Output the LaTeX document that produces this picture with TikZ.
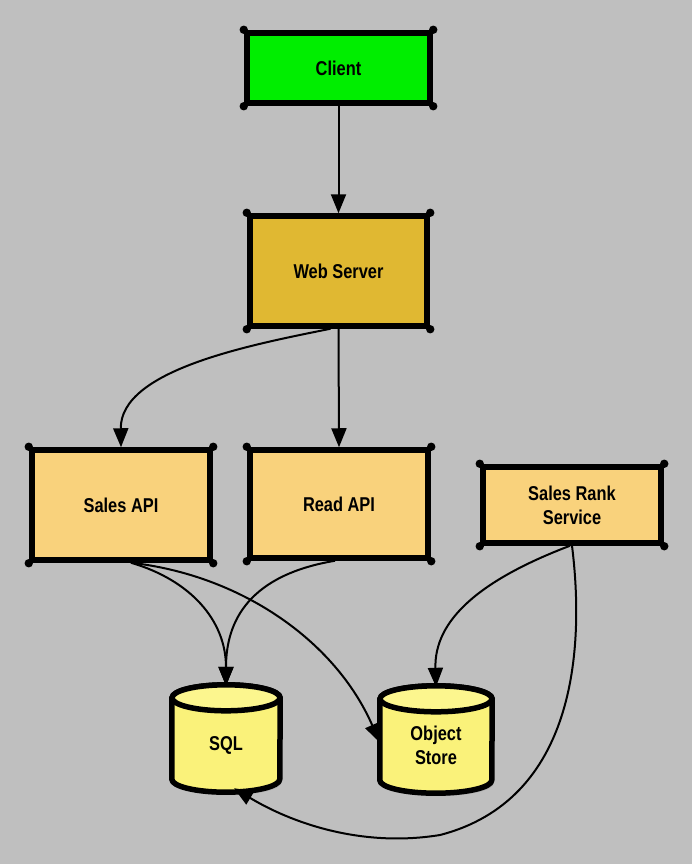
\documentclass[tikz,border=0pt]{standalone}
\usepackage{fontspec}
\setmainfont{Liberation Sans}[FakeStretch=0.82]
\usetikzlibrary{arrows.meta,shadows}

\definecolor{bgray}{HTML}{BFBFBF}
\definecolor{clientgreen}{HTML}{00EE00}
\definecolor{servergold}{HTML}{E0B832}
\definecolor{apipeach}{HTML}{F9D27C}
\definecolor{dbyellow}{HTML}{FAF27A}
\definecolor{dbtop}{HTML}{FCF68E}

\tikzset{
  box/.style={draw=black, line width=5.5pt, rectangle, align=center,
    font=\bfseries\fontsize{20}{24}\selectfont,
    drop shadow={opacity=0.25, shadow xshift=2pt, shadow yshift=-3pt}},
  dbnode/.style={rectangle, align=center, inner sep=0pt,
    font=\bfseries\fontsize{20}{24}\selectfont},
  dbbody/.style={fill=dbyellow, draw=black, line width=5.5pt, line join=round},
  link/.style={draw=black, line width=2pt, -{Triangle[length=19pt,width=15pt]}},
  cornerdot/.style={fill=black}
}

% filled dots at the four corners of a box
\newcommand\boxcorners[1]{%
  \foreach \a/\dx/\dy in {north west/-1/-1, north east/1/-1, south west/-1/1, south east/1/1}
    \fill[cornerdot] ([xshift=\dx*0.5pt, yshift=-\dy*0.5pt]#1.\a) circle[radius=4.2pt];%
}

% database cylinder drawn around a named node
\newcommand\drawdb[2]{%
  \path[dbbody, drop shadow={opacity=0.25, shadow xshift=2pt, shadow yshift=-3pt}]
    ([yshift=-13pt]#1.north west) -- ([yshift=13pt]#1.south west)
    arc[start angle=180, end angle=360, x radius=#2, y radius=13pt]
    -- ([yshift=-13pt]#1.north east)
    arc[start angle=0, end angle=180, x radius=#2, y radius=13pt] -- cycle;
  \draw[line width=5.5pt, fill=dbtop] ([yshift=-13pt]#1.north) ellipse[x radius=#2, y radius=13pt];
}

\begin{document}
\begin{tikzpicture}[x=1pt, y=-1pt]
\useasboundingbox[fill=bgray] (0,0) rectangle (692,864);

% service boxes
\node[box, fill=clientgreen, minimum width=183pt, minimum height=70pt] (client) at (338.5,68) {Client};
\node[box, fill=servergold, minimum width=177pt, minimum height=110pt] (web) at (338.5,271) {Web Server};
\node[box, fill=apipeach, minimum width=178pt, minimum height=110pt] (sales) at (121,505) {Sales API};
\node[box, fill=apipeach, minimum width=178pt, minimum height=108pt] (read) at (339,504) {Read API};
\node[box, fill=apipeach, minimum width=178pt, minimum height=76pt] (rank) at (572,505) {Sales Rank\\Service};

\boxcorners{client}
\boxcorners{web}
\boxcorners{sales}
\boxcorners{read}
\boxcorners{rank}

% data stores
\node[dbnode, minimum width=108pt, minimum height=107pt] (sql) at (226,738.5) {};
\node[dbnode, minimum width=112pt, minimum height=107pt] (obj) at (436,739.5) {};
\drawdb{sql}{54pt}
\drawdb{obj}{56pt}
\node[dbnode] (sqllabel) at (226,745) {SQL};
\node[dbnode] (objlabel) at (436,745) {Object\\Store};

% connectors
\draw[link] (client.south) -- (web.north);
\draw[link] ([xshift=-8pt]web.south) .. controls (250,345) and (120,370) .. (sales.north);
\draw[link] (web.south) -- (read.north);
\draw[link] ([xshift=10pt]sales.south) .. controls (190,580) and (226,620) .. ([yshift=-1pt]sql.north);
\draw[link] ([xshift=10pt]sales.south) .. controls (240,575) and (335,640) .. ([yshift=-3pt]obj.west);
\draw[link] ([xshift=-4pt]read.south) .. controls (250,575) and (226,620) .. ([yshift=-1pt]sql.north);
\draw[link] ([xshift=-2pt]rank.south) .. controls (480,580) and (434,620) .. ([yshift=-1pt]obj.north);
\draw[link] (rank.south) .. controls (585,650) and (575,800) .. (440,835)
  .. controls (360,848) and (290,822) .. ([xshift=8pt,yshift=4pt]sql.south);
\end{tikzpicture}
\end{document}
